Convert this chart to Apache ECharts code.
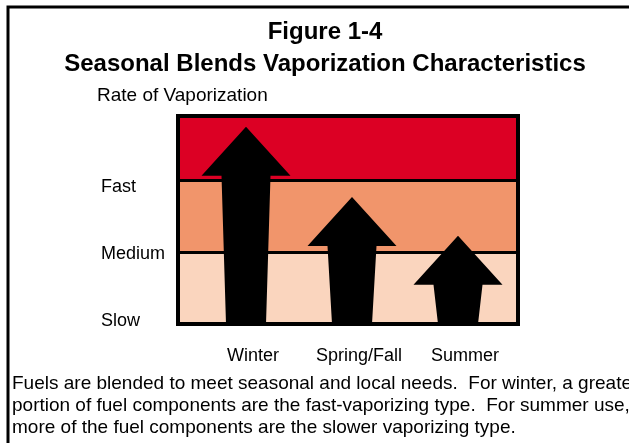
<!DOCTYPE html>
<html>
<head>
<meta charset="utf-8">
<script src="https://cdn.jsdelivr.net/npm/echarts@6/dist/echarts.min.js"></script>
<style>
  html, body { margin: 0; padding: 0; background: #fff; }
  #main { width: 629px; height: 443px; }
</style>
</head>
<body>
<div id="main"></div>
<script>
// 数据
var seasons = ['Winter', 'Spring/Fall', 'Summer'];
var vaporRate = [2.75, 1.77, 1.23];          // arrow tip, 0 = bottom of Slow
var rateLabels = ['Slow', 'Medium', 'Fast']; // at 0, 1, 2
var bandColors = ['#FAD5BE', '#F1956B', '#DC0024'];
var bandEdges = [0, 1, 2, 2.9];

var font = '"Liberation Sans", Arial, sans-serif';

var myChart = echarts.init(document.getElementById('main'));

var bands = [];
for (var i = 0; i < bandColors.length; i++) {
    bands.push([
        {yAxis: bandEdges[i], itemStyle: {color: bandColors[i]}},
        {yAxis: bandEdges[i + 1]}
    ]);
}

// 箭头
function renderArrow(params, api) {
    var tip = api.coord([api.value(0), api.value(1)]);
    var base = api.coord([api.value(0), 0]);
    var x = tip[0], y = tip[1];
    var headH = 49, headW = 89, shaftTop = 49, shaftBot = 40;
    return {
        type: 'polygon',
        shape: {
            points: [
                [x, y],
                [x + headW / 2, y + headH],
                [x + shaftTop / 2, y + headH],
                [x + shaftBot / 2, base[1]],
                [x - shaftBot / 2, base[1]],
                [x - shaftTop / 2, y + headH],
                [x - headW / 2, y + headH]
            ]
        },
        style: {fill: '#000'}
    };
}

var option = {
    backgroundColor: '#fff',
    animation: false,
    title: {
        text: 'Figure 1-4\nSeasonal Blends Vaporization Characteristics',
        left: 320,
        textAlign: 'center',
        top: 11,
        textStyle: {
            fontFamily: font,
            fontSize: 24,
            fontWeight: 'bold',
            color: '#000',
            lineHeight: 32
        }
    },
    graphic: [
        {
            type: 'polyline',
            shape: {points: [[8, 443], [8, 7], [629, 7]]},
            style: {stroke: '#000', lineWidth: 3, fill: null}
        },
        {
            type: 'text',
            left: 97,
            top: 86,
            style: {text: 'Rate of Vaporization', font: '19px ' + font, fill: '#000'}
        },
        {
            type: 'text',
            left: 12,
            top: 373,
            style: {
                text: 'Fuels are blended to meet seasonal and local needs.  For winter, a greater\n' +
                      'portion of fuel components are the fast-vaporizing type.  For summer use,\n' +
                      'more of the fuel components are the slower vaporizing type.',
                font: '19px ' + font,
                lineHeight: 22,
                fill: '#000'
            }
        }
    ],
    grid: [
        {left: 178, width: 340, top: 116, height: 208, show: true, borderColor: '#000', borderWidth: 4, z: 10},
        {left: 193, width: 318, top: 116, height: 208}
    ],
    xAxis: [
        {type: 'value', gridIndex: 0, show: false, min: 0, max: 1},
        {
            type: 'category',
            gridIndex: 1,
            data: seasons,
            axisLine: {show: false},
            axisTick: {show: false},
            axisLabel: {
                interval: 0,
                hideOverlap: false,
                margin: 23,
                padding: [0, 0, 0, 14],
                color: '#000',
                fontFamily: font,
                fontSize: 18
            }
        }
    ],
    yAxis: [
        {
            type: 'value',
            gridIndex: 0,
            min: 0,
            max: 2.9,
            interval: 1,
            z: 3,
            axisLine: {show: false},
            axisTick: {show: false},
            splitLine: {lineStyle: {color: '#000', width: 3}},
            axisLabel: {
                align: 'left',
                margin: 77,
                showMaxLabel: false,
                formatter: function (v) {
                    var name = rateLabels[v];
                    return name ? '{' + name + '|' + name + '}' : '';
                },
                rich: {
                    Fast: {color: '#000', fontFamily: font, fontSize: 18, padding: [12, 0, 0, 0]},
                    Medium: {color: '#000', fontFamily: font, fontSize: 18, padding: [4, 0, 0, 0]},
                    Slow: {color: '#000', fontFamily: font, fontSize: 18, padding: [0, 0, 6, 0]}
                }
            }
        },
        {type: 'value', gridIndex: 1, min: 0, max: 2.9, show: false}
    ],
    series: [
        {
            type: 'line',
            xAxisIndex: 0,
            yAxisIndex: 0,
            data: [],
            silent: true,
            markArea: {silent: true, data: bands}
        },
        {
            type: 'custom',
            xAxisIndex: 1,
            yAxisIndex: 1,
            z: 5,
            renderItem: renderArrow,
            data: seasons.map(function (s, i) { return [i, vaporRate[i]]; })
        }
    ]
};

myChart.setOption(option);
</script>
</body>
</html>
